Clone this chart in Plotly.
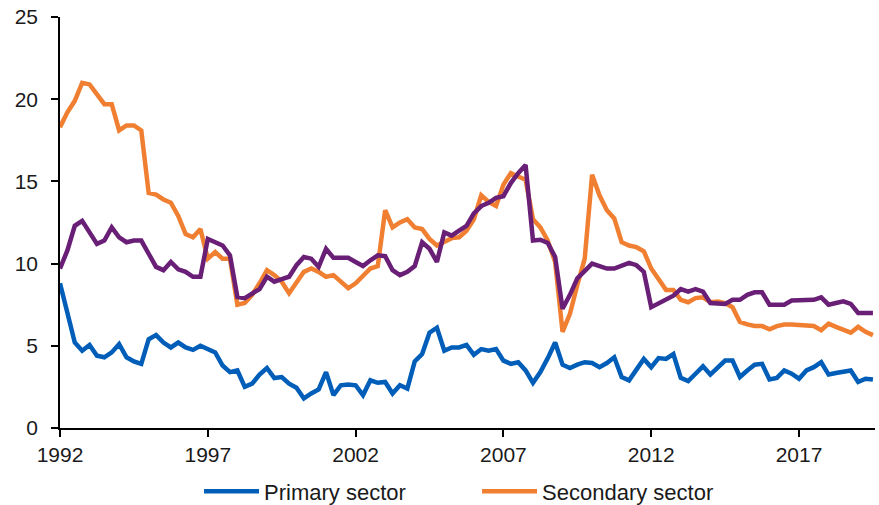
import plotly.graph_objects as go

start_year = 1992
n_quarters = 111
x = [start_year + 0.25 * i for i in range(n_quarters)]

primary = [
    8.8, 7.05, 5.2, 4.7, 5.05, 4.4, 4.3, 4.6, 5.1, 4.3,
    4.05, 3.9, 5.4, 5.65, 5.2, 4.9, 5.2, 4.9, 4.75, 5.0,
    4.8, 4.6, 3.8, 3.4, 3.5, 2.5, 2.7, 3.25, 3.65, 3.04,
    3.1, 2.7, 2.45, 1.8, 2.1, 2.35, 3.4, 2.0, 2.6, 2.65,
    2.6, 2.0, 2.9, 2.75, 2.8, 2.1, 2.6, 2.4, 4.05, 4.5,
    5.8, 6.1, 4.7, 4.9, 4.9, 5.05, 4.45, 4.8, 4.7, 4.8,
    4.1, 3.9, 4.0, 3.5, 2.75, 3.4, 4.25, 5.2, 3.85, 3.65,
    3.85, 4.0, 3.95, 3.7, 3.95, 4.3, 3.1, 2.9, 3.55, 4.2,
    3.7, 4.25, 4.2, 4.5, 3.05, 2.85, 3.3, 3.75, 3.25, 3.65,
    4.1, 4.1, 3.1, 3.5, 3.85, 3.9, 2.95, 3.05, 3.5, 3.3,
    3.0, 3.5, 3.7, 4.0, 3.25, 3.35, 3.4, 3.5, 2.8, 3.0,
    2.95,
]

secondary = [
    18.3, 19.2, 19.9, 21.0, 20.9, 20.3, 19.7, 19.7, 18.1, 18.4,
    18.4, 18.1, 14.3, 14.2, 13.9, 13.7, 12.9, 11.8, 11.6, 12.1,
    10.3, 10.7, 10.3, 10.3, 7.5, 7.6, 8.1, 8.8, 9.6, 9.3,
    8.9, 8.2, 8.8, 9.5, 9.7, 9.5, 9.2, 9.3, 8.9, 8.5,
    8.8, 9.3, 9.7, 9.85, 13.25, 12.2, 12.5, 12.7, 12.2, 12.1,
    11.5, 11.1, 11.3, 11.55, 11.6, 12.0, 12.7, 14.15, 13.75, 13.5,
    14.8, 15.5, 15.3, 15.1, 12.7, 12.2, 11.4, 10.1, 5.85, 6.95,
    8.7, 10.3, 15.4, 14.15, 13.25, 12.75, 11.3, 11.1, 11.0, 10.75,
    9.7, 9.0, 8.4, 8.4, 7.8, 7.65, 7.9, 7.95, 7.65, 7.7,
    7.6, 7.35, 6.45, 6.3, 6.2, 6.2, 6.0, 6.2, 6.3, 6.3,
    6.25, 6.25, 6.2, 5.95, 6.35, 6.15, 5.95, 5.8, 6.15, 5.85,
    5.65,
]

tertiary = [
    9.7, 10.8, 12.3, 12.6, 11.9, 11.2, 11.4, 12.2, 11.6, 11.3,
    11.4, 11.4, 10.6, 9.8, 9.6, 10.1, 9.65, 9.5, 9.2, 9.2,
    11.5, 11.3, 11.1, 10.5, 7.97, 7.9, 8.2, 8.45, 9.2, 8.9,
    9.05, 9.2, 9.9, 10.4, 10.3, 9.8, 10.9, 10.35, 10.35, 10.35,
    10.1, 9.85, 10.2, 10.5, 10.45, 9.6, 9.3, 9.5, 9.85, 11.3,
    10.9, 10.1, 11.9, 11.7, 12.0, 12.3, 13.05, 13.5, 13.7, 14.0,
    14.1, 14.9, 15.5, 16.0, 11.4, 11.45, 11.25, 10.4, 7.25, 8.1,
    9.1, 9.6, 10.0, 9.85, 9.7, 9.7, 9.85, 10.05, 9.9, 9.5,
    7.35, 7.6, 7.8, 8.05, 8.45, 8.3, 8.45, 8.3, 7.6, 7.55,
    7.55, 7.8, 7.8, 8.1, 8.25, 8.25, 7.5, 7.5, 7.5, 7.75,
    7.75, 7.75, 7.8, 7.95, 7.5, 7.6, 7.7, 7.55, 7.0, 7.0,
    7.0,
]

y_ticks = [0, 5, 10, 15, 20, 25]
x_ticks = [1992, 1997, 2002, 2007, 2012, 2017]

names = ["Primary sector", "Secondary sector", "Tertiary sector"]
colors = ["#005EB8", "#F07F32", "#6A1F77"]

fig = go.Figure()
for name, vals, col, show in zip(names, [primary, secondary, tertiary], colors, [True, True, False]):
    fig.add_trace(go.Scatter(
        x=x, y=vals, mode="lines", name=name, showlegend=show,
        line=dict(color=col, width=4.5),
    ))

font_family = "Liberation Sans, Arial, sans-serif"
text_color = "#1a1a1a"

fig.update_layout(
    width=879, height=505,
    margin=dict(l=60, r=4, t=17, b=77, autoexpand=False),
    paper_bgcolor="white", plot_bgcolor="white",
    font=dict(family=font_family, size=21, color=text_color),
    showlegend=True,
    legend=dict(
        orientation="h", x=0.1706, xanchor="left", y=-0.103, yanchor="top",
        font=dict(size=22, color=text_color), itemwidth=55,
        entrywidth=208, entrywidthmode="pixels",
        bgcolor="rgba(0,0,0,0)", tracegroupgap=0,
    ),
    xaxis=dict(
        range=[1992, 2019.57], tickvals=x_ticks, ticktext=[str(t) for t in x_ticks],
        showgrid=False, zeroline=False, showline=True, linecolor="#000", linewidth=1.5,
        ticks="outside", ticklen=7, tickcolor="#000", tickwidth=1.5,
        tickfont=dict(size=21, color=text_color), ticklabelstandoff=0,
    ),
    yaxis=dict(
        range=[0, 25], tickvals=y_ticks,
        showgrid=False, zeroline=False, showline=True, linecolor="#000", linewidth=1.5,
        ticks="outside", ticklen=7, tickcolor="#000", tickwidth=1.5,
        tickfont=dict(size=21, color=text_color), ticklabelstandoff=9,
    ),
)

fig.write_html(
    "out.html",
    config={"displayModeBar": False},
    post_script="document.body.style.margin='0';document.body.style.overflow='hidden';",
)
